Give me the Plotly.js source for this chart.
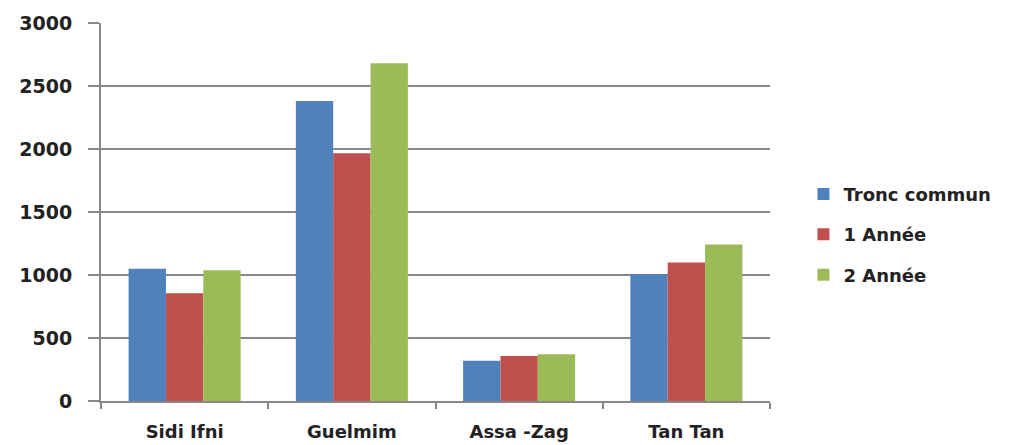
<!DOCTYPE html>
<html><head><meta charset="utf-8">
<script src="https://cdn.plot.ly/plotly-3.0.1.min.js"></script>
<style>html,body{margin:0;padding:0;background:#fff;}#c{width:1020px;height:445px;}</style>
</head><body><div id="c"></div>
<script>
const categories = ["Sidi Ifni", "Guelmim", "Assa -Zag", "Tan Tan"];
const seriesNames = ["Tronc commun", "1 Année", "2 Année"];
const troncCommun = [1050, 2380, 320, 1005];
const annee1 = [855, 1967, 358, 1100];
const annee2 = [1037, 2680, 372, 1243];
const colors = ["#4f81bd", "#c0504d", "#9bbb59"];
const values = [troncCommun, annee1, annee2];

const traces = values.map((v, i) => ({
  type: "bar", x: categories, y: v, name: seriesNames[i],
  legendgroup: "g" + i,
  marker: {color: colors[i], line: {width: 0}}
}));

const tf = {family: "DejaVu Sans, Verdana, sans-serif", size: 18, color: "#222", weight: "bold"};
const yf = {family: "DejaVu Sans, Verdana, sans-serif", size: 19, color: "#222", weight: "bold"};

Plotly.newPlot("c", traces, {
  width: 1020, height: 445,
  margin: {l: 101, r: 250, t: 23, b: 44},
  paper_bgcolor: "#fff", plot_bgcolor: "#fff",
  barmode: "group", bargap: 0.33, bargroupgap: 0,
  font: {family: "DejaVu Sans, Verdana, sans-serif", color: "#222"},
  xaxis: {
    showgrid: false, showline: true, linecolor: "#888", linewidth: 2,
    ticks: "outside", tickson: "boundaries", ticklen: 6, tickcolor: "#888", tickwidth: 2,
    tickfont: tf, zeroline: false, ticklabelstandoff: 13
  },
  yaxis: {
    range: [0, 3000], dtick: 500, showgrid: true, gridcolor: "#888", gridwidth: 1.5,
    showline: true, linecolor: "#888", linewidth: 2,
    ticks: "outside", ticklen: 11, tickcolor: "#888", tickwidth: 1.5,
    tickfont: yf, zeroline: false, ticklabelstandoff: 12
  },
  showlegend: true,
  legend: {
    x: 1.05, xanchor: "left", y: 0.44, yanchor: "middle",
    font: tf, traceorder: "grouped", tracegroupgap: 14,
    itemwidth: 30, bgcolor: "rgba(0,0,0,0)"
  }
}, {displayModeBar: false, staticPlot: true});
</script></body></html>
